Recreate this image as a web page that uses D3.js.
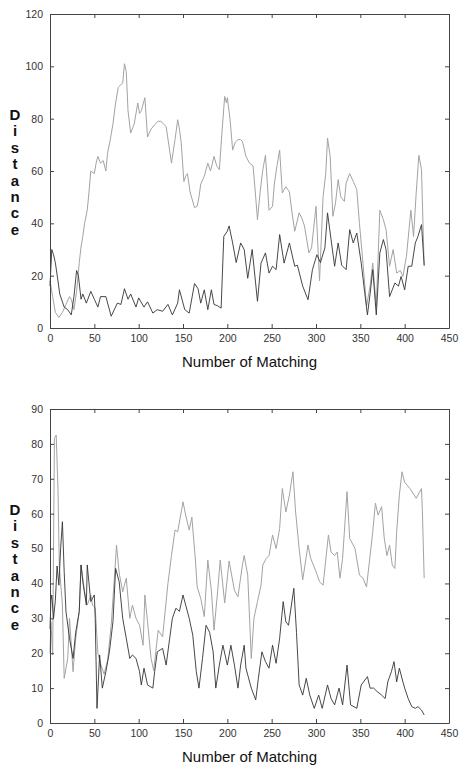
<!DOCTYPE html>
<html>
<head>
<meta charset="utf-8">
<script src="https://cdn.jsdelivr.net/npm/d3@7"></script>
<style>
  body { margin: 0; background: #fff; }
  svg { display: block; font-family: "Liberation Sans", Arial, sans-serif; }
</style>
</head>
<body>
<svg width="459" height="765"></svg>
<script>
// x ticks shared by both panels
const xTicks = [0, 50, 100, 150, 200, 250, 300, 350, 400, 450];
const topYTicks = [0, 20, 40, 60, 80, 100, 120];
const bottomYTicks = [0, 10, 20, 30, 40, 50, 60, 70, 80, 90];

// top panel, gray series
const topGrayX = [0,3,6,10,14,18,22,24,27,30,33,35,37,39,42,44,46,50,52,54,57,60,63,65,68,71,74,77,80,82,84,86,88,91,95,99,101,103,107,110,114,118,122,125,128,131,134,137,141,144,146,148,151,153,155,158,163,166,168,170,174,178,181,185,188,191,194,197,199,200,203,206,209,212,215,217,221,225,229,232,234,237,240,243,245,247,251,253,256,259,262,266,270,273,276,281,284,287,292,295,300,304,308,311,313,316,319,322,325,328,332,334,338,342,346,349,353,357,361,364,368,372,376,379,383,387,391,395,398,402,407,410,413,416,419,422];
const topGrayY = [18,12,6,4,6,9,12,11,7,14,25,31,35,40,45,52,60,59,63,65.6,63,64,60,67,72,78,86,92,93,93.6,101,98,83,74.5,78,86,82,83,88,73,76,77.7,79,79,78,77,70,63,72,79.6,76,70.7,56,58,59,52,46,46.5,50,55,58,63,60,65.6,62,60.5,75,88.5,86,88,80,68,71,72,72,71.3,65.6,63,62,50,41.4,52,60.5,66,56,45,46.5,55,62,68,51.6,54,52,44,37,44,42,39,28.7,30.6,46.5,18,50.3,59,72.6,65.6,42.7,47.8,56.7,50,48.4,55.4,59,56,52.9,40,24.8,8.3,16,24.8,8.3,45,41.4,37.6,23.6,30,21,22,19.7,27.4,45,35,51.6,66,60.5,23.6];

// top panel, black series
const topBlackX = [0,2,4,6,9,11,14,16,20,24,27,30,32,35,37,41,46,50,54,57,63,69,76,80,84,88,91,97,100,106,110,116,121,127,133,138,144,146,152,157,163,167,170,174,178,182,185,189,193,196,200,202,206,210,215,219,223,228,234,238,243,247,251,255,259,264,270,276,279,285,291,296,301,305,310,313,317,321,325,329,334,338,342,346,351,355,358,361,364,368,372,376,379,383,389,393,396,400,404,408,412,415,419,422];
const topBlackY = [16,30,28,25,18,13,10,8,7,5,12,22,20,11,13,9.5,14,11,8,12,12,4.5,9.5,9,15,11,13,8,11.5,8,10,5.7,7,6.4,9,5,9.5,14.6,7,5.7,17,15,9.5,14.6,7,14.6,9,8.5,7.6,35,37,39,32.5,25,32.5,30,19,30,10.2,24.8,28.7,21,23.6,22.3,35.7,24.8,32.5,23.6,24,16,10.8,22.3,28,25,30.6,44,33.8,23.6,32.5,24,22.3,37.6,32.5,36.3,24.8,13.4,5,13,22.3,5,28.7,33.8,30,12,17.2,16,19.7,14.6,23.6,23.6,32.5,35,39.5,24];

// bottom panel, gray series
const bottomGrayX = [0,1,3,5,7,9,10.5,14,16,20,22,26,29,33,35,39,42,46,48,51,54,57,61,65,69,73,75,78,82,86,90,93,97,101,105,107,110,114,117,122,127,133,137,141,144,148,150,153,157,160,164,166,170,174,178,182,185,189,192,197,202,208,212,217,219,223,227,230,234,238,240,244,247,251,255,259,262,266,270,274,277,281,285,291,294,300,304,308,314,317,321,324,327,330,335,338,344,349,353,357,361,364,367,370,374,377,380,383,386,389,391,394,397,400,406,413,419,420,422];
const bottomGrayY = [20,29,19.5,81.6,82.5,67,45,33.8,12.8,18.5,30,14.7,24.3,32,45.3,37.6,33.8,36.7,33.8,33,20,17,14,18,28,43,51,43,37.6,41.5,30,33.8,30,28,22.3,36.7,29,18.5,15,26.6,24.7,40,48,55.3,54.8,60.5,63.4,59.6,55.3,59,46.7,39,35.7,30.5,46.7,38,26.6,37.6,46.7,34.4,46.4,38,36.2,45.3,48,42.4,18.5,30,34.8,39.5,45.3,47.2,48,53.9,50,55.8,67.2,60.5,65.3,72,60.5,50,41,51,47.2,43.4,40.5,39.5,53.9,49,48,49,41.5,47.2,66.3,52.9,50,42.4,41.5,39,48,54.8,63,59.6,62,52.9,48,51,45.3,44.3,54.8,65.3,72,69,67.2,64.4,67.2,60.5,41.5];

// bottom panel, black series
const bottomBlackX = [0,1,2,4,6,8,10,12,14,16,18,22,26,29,33,35,37,41,42,46,50,51,53,56,59,63,67,71,74,78,82,86,90,93,97,101,103,106,110,116,118,121,127,131,135,138,142,146,150,153,157,161,165,168,172,176,180,184,187,191,195,200,204,208,212,215,219,221,227,232,235,239,243,247,251,255,259,263,266,269,275,278,281,285,289,293,298,303,307,313,317,321,326,330,335,339,346,351,358,361,365,369,374,378,381,385,388,391,394,398,400,404,408,412,415,419,422];
const bottomBlackY = [27,35,36.7,30,35,45,39.5,50,57.7,43.4,32,24.3,18.5,26,32,45.3,40.5,33.8,45.3,34.8,36.7,30,4.2,19.5,10,14.7,20.4,29,44.3,40.5,30,24.3,18.5,19.5,18.5,14.7,10.9,15.7,10.9,10,14.7,20.4,21.4,16.6,24.3,30,32.9,32,36.7,33.8,30,25.2,14.7,10,18.5,28,26,20.4,10,16.6,22.3,16.6,22.3,16.6,10,16.6,22.3,15.7,10,6.6,12.8,20.4,17.6,15.7,22.3,17.1,24.3,34.8,29,28,38.6,26,10.9,8,12.8,8,4.2,8,4.2,10.9,7,5.2,10,5.2,16.6,5.2,4.2,10.9,13.3,10,10,9,8,7,11.8,14.7,17.6,11.8,15.7,11.8,10,7,4.7,4.2,4.7,3.7,2.3];

const svg = d3.select("svg");
svg.append("rect").attr("width", 459).attr("height", 765).attr("fill", "#fff");

function drawPanel(opt){
    const x = d3.scaleLinear().domain([0, 450]).range([50, 449]);
    const y = d3.scaleLinear().domain([0, opt.yMax]).range([opt.bottom, opt.top]);
    const g = svg.append("g");

    const line = d3.line().x(d => x(d[0])).y(d => y(d[1]));

    g.append("path")
        .datum(d3.zip(opt.grayX, opt.grayY))
        .attr("d", line)
        .attr("fill", "none")
        .attr("stroke", "#a3a3a3")
        .attr("stroke-width", 1);
    g.append("path")
        .datum(d3.zip(opt.blackX, opt.blackY))
        .attr("d", line)
        .attr("fill", "none")
        .attr("stroke", "#333")
        .attr("stroke-width", 0.9);

    // box with inward ticks on all sides (matlab look)
    const axes = [
        [d3.axisBottom(x).tickValues(xTicks), `translate(0,${opt.bottom})`, true],
        [d3.axisTop(x).tickValues(xTicks).tickFormat(""), `translate(0,${opt.top})`, false],
        [d3.axisLeft(y).tickValues(opt.yTicks), "translate(50,0)", true],
        [d3.axisRight(y).tickValues(opt.yTicks).tickFormat(""), "translate(449,0)", false]
    ];
    axes.forEach(([ax, tr, labels]) => {
        const a = g.append("g")
            .attr("transform", tr)
            .call(ax.tickSizeInner(-4).tickSizeOuter(0).tickPadding(labels ? 7 : 0));
        a.select(".domain").attr("stroke", "#444");
        a.selectAll(".tick line").attr("stroke", "#444");
        a.selectAll("text").attr("fill", "#333").style("font-size", "10.5px");
    });

    g.append("text")
        .attr("x", 249.5)
        .attr("y", opt.bottom + 39)
        .attr("text-anchor", "middle")
        .style("font-size", "15px")
        .attr("fill", "#111")
        .text("Number of Matching");

    // stacked vertical y label
    const letters = "Distance".split("");
    const mid = (opt.top + opt.bottom) / 2;
    g.selectAll(".ylab")
        .data(letters)
        .enter()
        .append("text")
        .attr("x", 15)
        .attr("y", (d, i) => mid - 57 + i * 16.4 + 6)
        .attr("text-anchor", "middle")
        .style("font-size", "15px")
        .style("font-weight", "bold")
        .attr("fill", "#111")
        .text(d => d);
}

drawPanel({top: 14, bottom: 328, yMax: 120, yTicks: topYTicks,
    grayX: topGrayX, grayY: topGrayY, blackX: topBlackX, blackY: topBlackY});
drawPanel({top: 409, bottom: 723, yMax: 90, yTicks: bottomYTicks,
    grayX: bottomGrayX, grayY: bottomGrayY, blackX: bottomBlackX, blackY: bottomBlackY});
</script>
</body>
</html>
